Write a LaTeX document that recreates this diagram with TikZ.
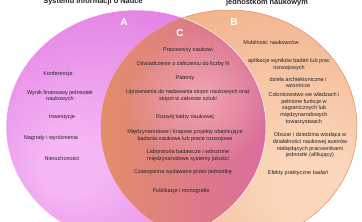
\documentclass[tikz,border=0pt]{standalone}
\usepackage{fontspec}
\setmainfont{Liberation Sans}
\usetikzlibrary{fadings}
\tikzfading[name=softspot, inner color=transparent!0, outer color=transparent!100]
\definecolor{Ain}{HTML}{F4B6F4}
\definecolor{Amid}{HTML}{E27CE2}
\definecolor{Aout}{HTML}{C03CC4}
\definecolor{Bin}{HTML}{FBD6BA}
\definecolor{Bmid}{HTML}{F0B088}
\definecolor{Bout}{HTML}{DE8450}
\definecolor{Cleft}{HTML}{E38E6A}
\definecolor{Cright}{HTML}{DA6C9E}
\definecolor{Chl}{HTML}{F0A6B4}
\definecolor{txt}{HTML}{222222}
\pgfdeclareradialshading{Ash}{\pgfpoint{-14bp}{-10bp}}{color(0bp)=(Ain); color(6bp)=(Ain); color(34bp)=(Amid); color(50bp)=(Aout)}
\pgfdeclareradialshading{Bsh}{\pgfpoint{20bp}{-16bp}}{color(0bp)=(Bin); color(8bp)=(Bin); color(36bp)=(Bmid); color(50bp)=(Bout)}
\tikzset{
  lbl/.style={font=\fontsize{5.5}{6.7}\selectfont, align=center, text=txt, inner sep=0pt},
  ttl/.style={font=\fontsize{7.4}{8.5}\selectfont\bfseries, text=txt, inner sep=0pt, anchor=base},
  letter/.style={font=\fontsize{10}{12}\selectfont\bfseries, text=white, inner sep=0pt}
}
\begin{document}
\begin{tikzpicture}[x=1pt,y=-1pt]
\useasboundingbox (0,0) rectangle (362,222);
\clip (0,0) rectangle (362,222);
\fill[white] (0,0) rectangle (362,222);
% circle A
\shade[shading=Ash] (136,127) ellipse [x radius=130, y radius=117];
% circle B
\shade[shading=Bsh] (229,127) ellipse [x radius=128, y radius=117];
% overlap C
\begin{scope}
  \clip (229,127) ellipse [x radius=128, y radius=117];
  \clip (136,127) ellipse [x radius=130, y radius=117];
  \shade[left color=Cleft, right color=Cright] (100,0) rectangle (267,222);
  \fill[Chl, path fading=softspot] (200,98) ellipse [x radius=75, y radius=70];
\end{scope}
\draw[white, line width=0.5pt] (136,127) ellipse [x radius=130, y radius=117];
\draw[color=Bout!80!Bmid, line width=0.5pt] (229,127) ellipse [x radius=128, y radius=117];

% titles
\node[ttl] (tA) at (93,3.3) {Systemu informacji o Nauce};
\node[ttl] (tB) at (267,4.4) {jednostkom naukowym};

% letters
\node[letter] (lA) at (124,22) {A};
\node[letter] (lB) at (234,22) {B};
\node[letter] (lC) at (180,33) {C};

% A only
\node[lbl] (a1) at (58,74) {Konferencje};
\node[lbl] (a2) at (60,96) {Wynik finansowy jednsotek\\naukowych};
\node[lbl] (a3) at (62,117) {Inwestycje};
\node[lbl] (a4) at (51,138) {Nagrody i wyróżnienia};
\node[lbl] (a5) at (62,159) {Nieruchoności};

% C
\node[lbl] (c1) at (188,50) {Pracownicy naukowi};
\node[lbl] (c2) at (183,64) {Oświadczenie o zaliczeniu do liczby N};
\node[lbl] (c3) at (185,78) {Patenty};
\node[lbl] (c4) at (188,95.5) {Uprawnienia do nadawania stopni naukowych oraz\\stopni w zakresie sztuki};
\node[lbl] (c5) at (185,117) {Rozwój kadry naukowej};
\node[lbl] (c6) at (185,135.5) {Międzynarodowe i krajowe projekty obejmujące\\badania naukowe lub prace rozwojowe};
\node[lbl] (c7) at (188,155.5) {Laboratoria badawcze i wdrożone\\międzynarodowe systemy jakości};
\node[lbl] (c8) at (183,172) {Czasopisma wydawane przez jednostkę};
\node[lbl] (c9) at (181,191) {Publikacje i monografie};

% B only
\node[lbl] (b1) at (271,43) {Mobilnośc naukowców};
\node[lbl] (b2) at (289,64.5) {aplikacje wyników badań lub prac\\rozwojowych};
\node[lbl] (b3) at (298,82.5) {dzieła archiektoniczne i\\wzornicze};
\node[lbl] (b4) at (304,108.5) {Członkowstwo we władzach i\\pełnione funkcje w\\zagranicznych lub\\międzynarodowych\\towarzystwach};
\node[lbl] (b5) at (310,145.5) {Obszar i dziedzina wiodąca w\\działalności naukowej autorów\\niebędących pracownikami\\jednostki (afiliujący)};
\node[lbl] (b6) at (298,173) {Efekty praktyczne badań};
\end{tikzpicture}
\end{document}
